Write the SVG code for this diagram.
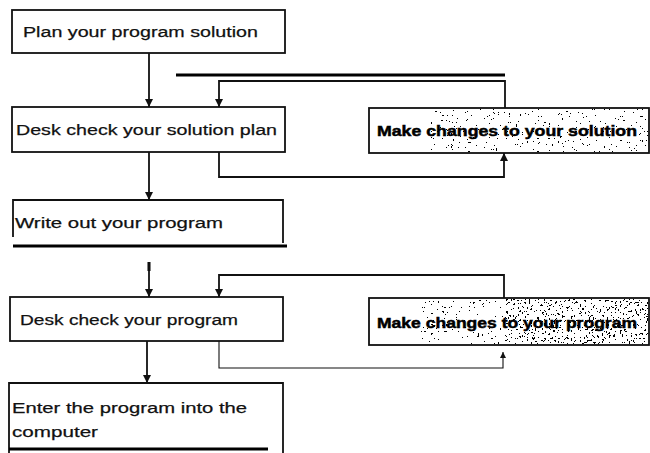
<svg xmlns="http://www.w3.org/2000/svg" width="650" height="453" viewBox="0 0 650 453">
  <style>
    .box { fill: #fff; stroke: #111; stroke-width: 1.8; }
    .edge { fill: none; stroke: #111; stroke-width: 1.8; }
    .rule { fill: none; stroke: #000; stroke-width: 3; }
    .thin { fill: none; stroke: #111; stroke-width: 1.1; }
    .lbl { font-family: "Liberation Sans", Arial, sans-serif; font-size: 15.5px; fill: #111; stroke: #111; stroke-width: 0.25; }
    .bold { font-weight: bold; fill: #000; stroke: #000; stroke-width: 0.5; }
  </style>
  <defs>
    <marker id="arrow" viewBox="0 0 10 10" refX="10" refY="5" markerWidth="10" markerHeight="8" markerUnits="userSpaceOnUse" orient="auto">
      <path d="M0,0 L10,5 L0,10 z" fill="#111"/>
    </marker>
    <marker id="arrowSmall" viewBox="0 0 10 10" refX="10" refY="5" markerWidth="7" markerHeight="6" markerUnits="userSpaceOnUse" orient="auto">
      <path d="M0,0 L10,5 L0,10 z" fill="#111"/>
    </marker>
    <!-- speckled print texture -->
    <filter id="grainLight" x="0" y="0" width="1" height="1" color-interpolation-filters="sRGB">
      <feTurbulence type="fractalNoise" baseFrequency="0.45" numOctaves="3" seed="4" result="n"/>
      <feColorMatrix in="n" type="matrix" values="0 0 0 0 0  0 0 0 0 0  0 0 0 0 0  5 0 0 0 -2.75"/>
      <feComponentTransfer><feFuncA type="discrete" tableValues="0 0 0 0 0 0 0 0 0 1"/></feComponentTransfer>
    </filter>
    <filter id="grainHeavy" x="0" y="0" width="1" height="1" color-interpolation-filters="sRGB">
      <feTurbulence type="fractalNoise" baseFrequency="0.45" numOctaves="3" seed="9" result="n"/>
      <feColorMatrix in="n" type="matrix" values="0 0 0 0 0  0 0 0 0 0  0 0 0 0 0  5 0 0 0 -2.35"/>
      <feComponentTransfer><feFuncA type="discrete" tableValues="0 0 0 0 0 0 0 0 0 1"/></feComponentTransfer>
    </filter>
  </defs>

  <!-- connectors -->
  <g id="connectors">
    <line class="edge" x1="149" y1="53" x2="149" y2="107" marker-end="url(#arrow)"/>
    <line class="rule" x1="176" y1="75" x2="505" y2="75"/>
    <polyline class="edge" points="505,108 505,81 219,81 219,107" marker-end="url(#arrow)"/>
    <polyline class="edge" points="219,152 219,177 504,177 504,153" marker-end="url(#arrow)"/>
    <line class="edge" x1="149" y1="152" x2="149" y2="200" marker-end="url(#arrow)"/>
    <line class="rule" x1="149" y1="262" x2="149" y2="271"/>
    <line class="edge" x1="149" y1="262" x2="149" y2="297" marker-end="url(#arrow)"/>
    <polyline class="edge" points="504,298 504,275 219,275 219,297" marker-end="url(#arrow)"/>
    <polyline class="thin" points="219,341 219,368 503,368 503,352" marker-end="url(#arrowSmall)"/>
    <line class="edge" x1="147" y1="341" x2="147" y2="383" marker-end="url(#arrow)"/>
  </g>

  <g id="plan">
    <rect class="box" x="12" y="10" width="273" height="43"/>
    <text class="lbl" x="23" y="37" textLength="235" lengthAdjust="spacingAndGlyphs">Plan your program solution</text>
  </g>

  <g id="desk-check-plan">
    <rect class="box" x="12" y="107" width="273" height="45"/>
    <text class="lbl" x="16" y="135" textLength="261" lengthAdjust="spacingAndGlyphs">Desk check your solution plan</text>
  </g>

  <g id="change-solution">
    <rect class="box" x="369" y="108" width="280" height="45"/>
    <rect x="430" y="109" width="218" height="43" fill="#000" filter="url(#grainLight)"/>
    <text class="lbl bold" x="377" y="136" textLength="260" lengthAdjust="spacingAndGlyphs">Make changes to your solution</text>
  </g>

  <g id="write-out">
    <path class="edge" d="M13,237 V200 H283 V243"/>
    <line class="rule" x1="13" y1="246" x2="287" y2="246"/>
    <text class="lbl" x="15" y="228" textLength="208" lengthAdjust="spacingAndGlyphs">Write out your program</text>
  </g>

  <g id="desk-check-program">
    <rect class="box" x="10" y="297" width="273" height="44"/>
    <text class="lbl" x="20" y="325" textLength="218" lengthAdjust="spacingAndGlyphs">Desk check your program</text>
  </g>

  <g id="change-program">
    <rect class="box" x="369" y="298" width="280" height="47"/>
    <rect x="505" y="299" width="143" height="45" fill="#000" filter="url(#grainHeavy)"/>
    <rect x="420" y="299" width="85" height="45" fill="#000" filter="url(#grainLight)"/>
    <text class="lbl bold" x="377" y="328" textLength="260" lengthAdjust="spacingAndGlyphs">Make changes to your program</text>
  </g>

  <g id="enter-program">
    <path class="edge" d="M9,453 V383 H283 V453"/>
    <line class="rule" x1="9" y1="449" x2="268" y2="449"/>
    <text class="lbl" x="12" y="413" textLength="235" lengthAdjust="spacingAndGlyphs">Enter the program into the</text>
    <text class="lbl" x="12" y="437" textLength="86" lengthAdjust="spacingAndGlyphs">computer</text>
  </g>
</svg>
